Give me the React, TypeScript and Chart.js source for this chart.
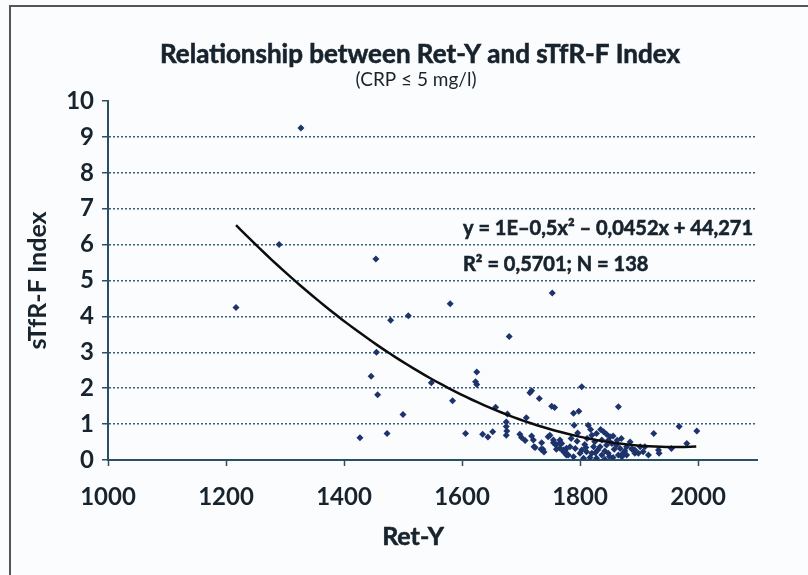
import React, { useEffect, useRef } from "react";
import { Chart, registerables } from "chart.js";

Chart.register(...registerables);

const titleText = "Relationship between Ret-Y and sTfR-F Index";
const subtitleText = "(CRP \u2264 5 mg/l)";
const equationText = "y = 1E\u20130,5x\u00b2 \u2013 0,0452x + 44,271";
const statsText = "R\u00b2 = 0,5701; N = 138";
const xAxisTitle = "Ret-Y";
const yAxisTitle = "sTfR-F Index";

const xMin = 1000;
const xMax = 2100;
const xTickValues = [1000, 1200, 1400, 1600, 1800, 2000];
const yMin = 0;
const yMax = 10;

// Ret-Y values of the scatter points
const retY = [
  1217, 1290, 1327, 1427, 1446, 1454, 1455, 1457, 1473, 1479,
  1500, 1509, 1548, 1580, 1584, 1606, 1625, 1623, 1625, 1635,
  1644, 1652, 1657, 1677, 1675, 1675, 1676, 1675, 1680, 1698,
  1701, 1707, 1709, 1715, 1718, 1718, 1721, 1722, 1731, 1735,
  1737, 1739, 1746, 1752, 1753, 1757, 1755, 1759, 1766, 1772,
  1777, 1780, 1789, 1798, 1790, 1803, 1814, 1865,
  1820, 1828, 1840, 1845, 1851, 1856, 1837, 1825, 1823, 1834,
  1845, 1854, 1862, 1868, 1879, 1888, 1873, 1865, 1848, 1837,
  1820, 1811, 1803, 1792, 1783, 1775, 1769, 1766, 1777, 1789,
  1806, 1817, 1828, 1842, 1856, 1871, 1879, 1893, 1800,
  1910, 1907, 1899, 1893, 1888, 1902, 1916, 1933, 1934, 1955,
  1925, 1968, 1998, 1981,
  1734, 1749, 1755, 1759, 1760, 1766, 1772, 1778, 1724,
  1785, 1795, 1808, 1812, 1830, 1835, 1848, 1858, 1870, 1876,
  1885, 1796, 1810, 1826, 1850, 1863, 1842, 1818,
];

// sTfR-F Index values of the scatter points
const stfrfIndex = [
  4.25, 6.0, 9.25, 0.62, 2.33, 5.6, 3.0, 1.82, 0.74, 3.89,
  1.27, 4.02, 2.15, 4.35, 1.65, 0.74, 2.45, 2.18, 2.1, 0.72,
  0.64, 0.79, 1.47, 1.28, 1.06, 0.93, 0.81, 0.69, 3.44, 0.72,
  0.63, 0.54, 1.18, 1.87, 1.93, 0.67, 0.56, 0.37, 1.71, 0.48,
  0.3, 0.22, 0.65, 1.5, 4.65, 1.46, 0.48, 0.42, 0.33, 0.23,
  0.33, 0.14, 1.3, 1.36, 0.97, 2.04, 0.97, 1.48,
  0.69, 0.74, 0.79, 0.72, 0.65, 0.67, 0.56, 0.51, 0.37, 0.37,
  0.42, 0.46, 0.42, 0.32, 0.37, 0.3, 0.19, 0.14, 0.19, 0.14,
  0.19, 0.23, 0.28, 0.32, 0.37, 0.28, 0.46, 0.56, 0.14, 0.09,
  0.05, 0.07, 0.05, 0.02, 0.07, 0.09, 0.14, 0.19, 0.19,
  0.37, 0.23, 0.19, 0.28, 0.32, 0.37, 0.14, 0.28, 0.19, 0.32,
  0.74, 0.93, 0.81, 0.46,
  0.3, 0.69, 0.56, 0.44, 0.3, 0.48, 0.28, 0.17, 0.35,
  0.6, 0.52, 0.43, 0.6, 0.28, 0.85, 0.55, 0.3, 0.6, 0.25,
  0.5, 0.75, 0.35, 0.2, 0.1, 0.55, 0.25, 0.85,
];

// Quadratic trendline coefficients (as drawn)
const trendA = 1.12e-5;
const trendB = -0.0439;
const trendC = 43.38;
const trendFrom = 1217;
const trendTo = 2000;
const trendStep = 10;

const FONT = "Lato, 'Open Sans', 'DejaVu Sans', sans-serif";
const TEXT = "#17232d";

export default function App() {
  const canvasRef = useRef<HTMLCanvasElement | null>(null);

  useEffect(() => {
    const canvas = canvasRef.current;
    if (!canvas) return;

    const scatter = retY.map((x, i) => ({ x, y: stfrfIndex[i] }));
    const trend: { x: number; y: number }[] = [];
    for (let x = trendFrom; x <= trendTo; x += trendStep) {
      trend.push({ x, y: trendA * x * x + trendB * x + trendC });
    }

    const textPlugin = {
      id: "textPlugin",
      afterDraw(chart: any) {
        const ctx = chart.ctx;
        ctx.save();
        ctx.fillStyle = TEXT;
        ctx.strokeStyle = TEXT;
        ctx.lineWidth = 0.6;
        ctx.textAlign = "center";
        ctx.textBaseline = "middle";
        ctx.font = `bold 26px ${FONT}`;
        ctx.fillText(titleText, 420, 55);
        ctx.strokeText(titleText, 420, 55);
        ctx.font = `19px ${FONT}`;
        ctx.fillText(subtitleText, 416, 80);
        ctx.font = `bold 25px ${FONT}`;
        ctx.fillText(xAxisTitle, 413, 537);
        ctx.strokeText(xAxisTitle, 413, 537);
        ctx.textAlign = "left";
        ctx.font = `bold 20px ${FONT}`;
        ctx.fillText(equationText, 463, 229);
        ctx.strokeText(equationText, 463, 229);
        ctx.fillText(statsText, 463, 265);
        ctx.strokeText(statsText, 463, 265);
        ctx.restore();
      },
    };

    const chart = new Chart(canvas, {
      type: "scatter",
      data: {
        datasets: [
          {
            type: "scatter",
            data: scatter,
            pointStyle: "rectRot",
            pointRadius: 3.5,
            pointHoverRadius: 3.5,
            backgroundColor: "#1d336b",
            borderColor: "#1d336b",
            borderWidth: 0,
            order: 2,
          },
          {
            type: "line",
            data: trend,
            borderColor: "#0d0d0d",
            borderWidth: 2.5,
            pointRadius: 0,
            fill: false,
            tension: 0,
            order: 1,
          } as any,
        ],
      },
      plugins: [textPlugin],
      options: {
        animation: false,
        responsive: false,
        maintainAspectRatio: false,
        layout: { padding: { left: 0, right: 51, top: 101, bottom: 0 } },
        plugins: {
          legend: { display: false },
          tooltip: { enabled: false },
          title: { display: false },
        },
        scales: {
          x: {
            type: "linear",
            min: xMin,
            max: xMax,
            afterBuildTicks: (axis: any) => {
              axis.ticks = xTickValues.map((v) => ({ value: v }));
            },
            afterFit: (axis: any) => {
              axis.height = 115;
            },
            grid: {
              drawOnChartArea: false,
              drawTicks: true,
              tickLength: 6,
              tickColor: "#2b4f63",
              tickWidth: 1.5,
              color: "#2b4f63",
            },
            border: { display: true, color: "#2b4f63", width: 2 },
            ticks: {
              color: TEXT,
              font: { family: FONT, size: 24, weight: "bold" },
              padding: 17,
              maxRotation: 0,
              callback: (v: any) => String(v),
            },
            title: { display: false },
          },
          y: {
            type: "linear",
            min: yMin,
            max: yMax,
            ticks: {
              stepSize: 1,
              color: TEXT,
              font: { family: FONT, size: 24, weight: "bold" },
              padding: 8,
            },
            afterFit: (axis: any) => {
              axis.width = 108;
            },
            grid: {
              drawOnChartArea: true,
              drawTicks: true,
              tickLength: 6,
              tickColor: "#2b4f63",
              tickWidth: 1.5,
              tickBorderDash: [],
              lineWidth: 1.5,
              color: (ctx: any) => {
                const v = ctx.tick ? ctx.tick.value : 0;
                return v > 0 && v < 10 ? "#355f78" : "rgba(0,0,0,0)";
              },
            },
            border: { display: true, color: "#2b4f63", width: 2, dash: [2, 2] },
            title: {
              display: true,
              text: yAxisTitle,
              color: TEXT,
              font: { family: FONT, size: 25, weight: "bold" },
              padding: { top: 23, bottom: 0 },
            },
          },
        },
      } as any,
    });

    return () => {
      chart.destroy();
    };
  }, []);

  return (
    <div
      style={{
        position: "fixed",
        left: 0,
        top: 0,
        width: 808,
        height: 575,
        background: "#fbfcfe",
        overflow: "hidden",
      }}
    >
      <div
        style={{
          position: "absolute",
          left: 9,
          top: 5,
          width: 820,
          height: 600,
          borderLeft: "2px solid #555",
          borderTop: "2px solid #555",
        }}
      />
      <canvas
        ref={canvasRef}
        width={808}
        height={575}
        style={{ position: "absolute", left: 0, top: 0, width: 808, height: 575 }}
      />
    </div>
  );
}
